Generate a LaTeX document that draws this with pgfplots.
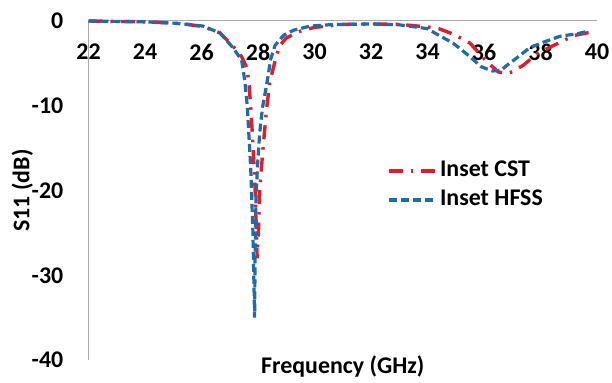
\documentclass[border=0pt]{standalone}
\usepackage{pgfplots}
\pgfplotsset{compat=1.18}
\usepackage{fontspec}
\setmainfont{Carlito}
\definecolor{cstred}{RGB}{222,30,40}
\definecolor{hfssblue}{RGB}{30,108,168}
\definecolor{axgray}{RGB}{170,170,170}
\begin{document}
\begin{tikzpicture}[font=\fontsize{24}{28}\selectfont\bfseries]
\useasboundingbox (0,0) rectangle (612bp,383bp);
\begin{axis}[
  at={(88.5bp,23bp)}, anchor=south west,
  scale only axis, width=508.5bp, height=339bp,
  xmin=22, xmax=40, ymin=-40, ymax=0,
  axis x line=top, axis y line=left,
  axis line style={-, draw=axgray, line width=1bp},
  major tick length=0pt,
  xtick={22,24,...,40},
  ytick={-40,-30,-20,-10,0},
  yticklabels={-40,-30,-20,-10,0},
  /pgf/number format/assume math mode=true,
  xticklabel style={anchor=center, inner sep=0pt, yshift=-31bp},
  yticklabel style={anchor=east, inner sep=0pt, xshift=-25bp},
  xlabel={Frequency (GHz)},
  xlabel style={at={(axis description cs:0.5,-0.018)}, anchor=center},
  ylabel={S11 (dB)},
  ylabel style={at={(axis description cs:-0.13,0.5)}, anchor=center, rotate=0},
  clip=false,
  legend cell align=left,
  legend image code/.code={\draw[#1] (0bp,0bp) -- (48bp,0bp);},
  legend style={at={(axis description cs:0.587,0.515)}, anchor=west,
    draw=none, fill=none, inner sep=0pt, row sep=6bp,
    nodes={inner sep=1.5bp, text height=16bp, text depth=4bp}},
]
\addplot[cstred, line width=3.4bp, dash pattern=on 14bp off 8bp on 2.5bp off 8bp] coordinates {
(22,0) (23,-0.05) (24,-0.1) (25,-0.25) (25.5,-0.4) (26.05,-0.65) (26.65,-1.4)
(27.1,-2.9) (27.42,-4.2) (27.6,-5.5) (27.68,-7.3) (27.75,-10.5) (27.82,-14.5)
(27.9,-20) (27.97,-28) (28.02,-24.5) (28.06,-20) (28.17,-15.3) (28.3,-10.5)
(28.42,-7.2) (28.6,-4.8) (28.75,-3.0) (29.0,-2.0) (29.5,-1.2) (30,-0.75)
(31,-0.4) (32,-0.35) (33,-0.4) (34,-0.7) (34.4,-0.9) (34.95,-1.6) (35.5,-2.6)
(36.1,-4.8) (36.5,-6.0) (36.8,-6.2) (37.0,-6.0) (37.4,-5.2) (37.9,-3.8)
(38.7,-2.5) (39.2,-1.7) (39.65,-1.4) (39.9,-1.3)
};
\addlegendentry{Inset CST}
\addplot[hfssblue, line width=3.2bp, dash pattern=on 8bp off 4bp] coordinates {
(22,0) (23,-0.05) (24,-0.1) (25,-0.25) (25.5,-0.4) (26.05,-0.6) (26.65,-1.4)
(27.1,-3.1) (27.42,-4.6) (27.53,-7.0) (27.62,-10.0) (27.74,-17.2) (27.82,-24.9)
(27.88,-35.0) (27.90,-27.0) (27.93,-21.0) (27.98,-17.2) (28.06,-13.2)
(28.16,-10.2) (28.28,-8.0) (28.38,-6.0) (28.45,-4.5) (28.6,-2.9) (28.9,-1.7)
(29.25,-1.1) (29.85,-0.6) (30.5,-0.45) (31,-0.4) (32,-0.35) (33,-0.45)
(34,-0.9) (34.3,-1.5) (34.9,-2.6) (35.5,-4.2) (35.9,-5.4) (36.3,-5.9)
(36.6,-5.8) (36.9,-5.0) (37.3,-4.0) (37.6,-3.2) (38.1,-2.5) (38.7,-1.8)
(39.3,-1.5) (39.7,-1.2)
};
\addlegendentry{Inset HFSS}
\end{axis}
\end{tikzpicture}
\end{document}
